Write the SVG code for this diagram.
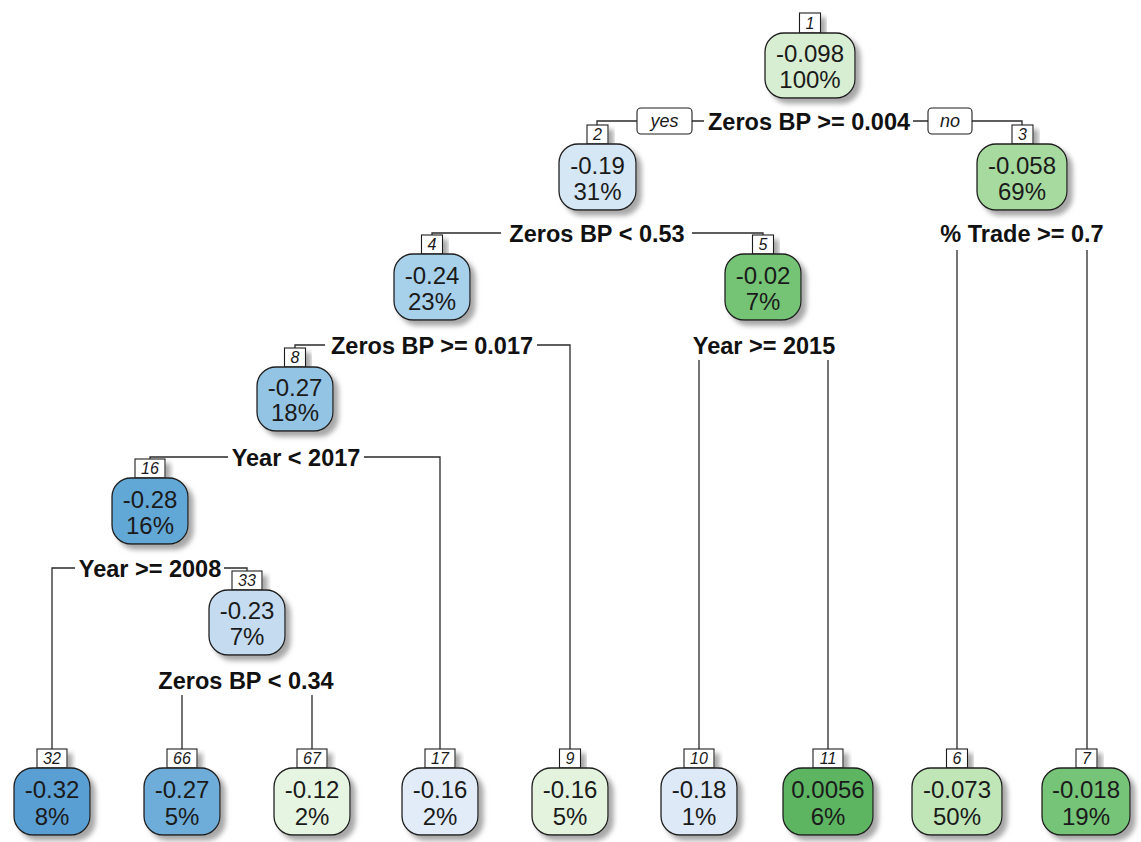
<svg xmlns="http://www.w3.org/2000/svg" width="1141" height="842" viewBox="0 0 1141 842">
<defs>
<filter id="sh" x="-20%" y="-20%" width="150%" height="150%">
<feDropShadow dx="5" dy="5" stdDeviation="2.5" flood-color="#8a8a8a" flood-opacity="0.75"/>
</filter>
<style>
.nb{stroke:#1f1f1f;stroke-width:1.3;filter:url(#sh)}
.lb{fill:#ffffff;stroke:#1f1f1f;stroke-width:1.1;filter:url(#sh)}
.yn{fill:#ffffff;stroke:#1f1f1f;stroke-width:1.1}
.nt{font-family:"Liberation Sans",Arial,sans-serif;font-size:24px;fill:#1a1a1a;text-anchor:middle}
.lt{font-family:"Liberation Sans",Arial,sans-serif;font-size:16px;font-style:italic;fill:#1a1a1a;text-anchor:middle}
.st{font-family:"Liberation Sans",Arial,sans-serif;font-size:23.5px;font-weight:bold;fill:#111;text-anchor:middle}
.yt{font-family:"Liberation Sans",Arial,sans-serif;font-size:18px;font-style:italic;fill:#1a1a1a;text-anchor:middle}
.cn{fill:none;stroke:#2a2a2a;stroke-width:1.3}
</style>
</defs>
<rect width="1141" height="842" fill="#ffffff"/>

<g id="connectors">
<path class="cn" d="M704 121H692M637 121H597V125"/>
<path class="cn" d="M913 121H928M972 121H1022V125"/>
<rect class="yn" x="637" y="108" width="55" height="26" rx="4"/>
<text class="yt" x="664.5" y="127">yes</text>
<rect class="yn" x="928" y="108" width="44" height="26" rx="4"/>
<text class="yt" x="950" y="127">no</text>
<path class="cn" d="M501 233H432V235M692 233H763V235"/>
<path class="cn" d="M957 250V749M1087 250V749"/>
<path class="cn" d="M325 345H295V348M537 345H570V749"/>
<path class="cn" d="M699 360V749M828 360V749"/>
<path class="cn" d="M228 457H150V459M364 457H440V749"/>
<path class="cn" d="M75 568H52V749M224 568H247V571"/>
<path class="cn" d="M182 695V749M312 695V749"/>
</g>

<g id="splits">
<text class="st" x="809" y="130">Zeros BP &gt;= 0.004</text>
<text class="st" x="597" y="242">Zeros BP &lt; 0.53</text>
<text class="st" x="1022" y="242">% Trade &gt;= 0.7</text>
<text class="st" x="432" y="354">Zeros BP &gt;= 0.017</text>
<text class="st" x="764" y="354">Year &gt;= 2015</text>
<text class="st" x="296" y="466">Year &lt; 2017</text>
<text class="st" x="150" y="577">Year &gt;= 2008</text>
<text class="st" x="246" y="689">Zeros BP &lt; 0.34</text>
</g>

<g id="node1">
<rect class="lb" x="799.5" y="13" width="21" height="20"/>
<text class="lt" x="810" y="29">1</text>
<rect class="nb" x="765" y="33" width="90" height="65" rx="19" fill="#d8eed2"/>
<text class="nt" x="810" y="62">-0.098</text>
<text class="nt" x="810" y="88">100%</text>
</g>
<g id="node2">
<rect class="lb" x="587" y="125" width="21" height="19"/>
<text class="lt" x="597.5" y="140">2</text>
<rect class="nb" x="559" y="144" width="77" height="66" rx="19" fill="#d5e6f5"/>
<text class="nt" x="597.5" y="174">-0.19</text>
<text class="nt" x="597.5" y="200">31%</text>
</g>
<g id="node3">
<rect class="lb" x="1012" y="125" width="21" height="19"/>
<text class="lt" x="1022.5" y="140">3</text>
<rect class="nb" x="977" y="144" width="90" height="66" rx="19" fill="#a7da9f"/>
<text class="nt" x="1022" y="174">-0.058</text>
<text class="nt" x="1022" y="200">69%</text>
</g>
<g id="node4">
<rect class="lb" x="421.5" y="235" width="21" height="19"/>
<text class="lt" x="432" y="250">4</text>
<rect class="nb" x="394" y="254" width="76" height="66" rx="19" fill="#a7d0ea"/>
<text class="nt" x="432" y="284">-0.24</text>
<text class="nt" x="432" y="310">23%</text>
</g>
<g id="node5">
<rect class="lb" x="752.5" y="235" width="21" height="19"/>
<text class="lt" x="763" y="250">5</text>
<rect class="nb" x="725" y="254" width="76" height="66" rx="19" fill="#74c476"/>
<text class="nt" x="763" y="284">-0.02</text>
<text class="nt" x="763" y="310">7%</text>
</g>
<g id="node8">
<rect class="lb" x="284.5" y="348" width="21" height="19"/>
<text class="lt" x="295" y="363">8</text>
<rect class="nb" x="257" y="367" width="76" height="64" rx="19" fill="#94c4e3"/>
<text class="nt" x="295" y="396">-0.27</text>
<text class="nt" x="295" y="421">18%</text>
</g>
<g id="node16">
<rect class="lb" x="135" y="459" width="30" height="19"/>
<text class="lt" x="150" y="474">16</text>
<rect class="nb" x="112" y="478" width="76" height="66" rx="19" fill="#62a8d7"/>
<text class="nt" x="150" y="508">-0.28</text>
<text class="nt" x="150" y="534">16%</text>
</g>
<g id="node33">
<rect class="lb" x="232" y="571" width="30" height="19"/>
<text class="lt" x="247" y="586">33</text>
<rect class="nb" x="209" y="590" width="76" height="65" rx="19" fill="#c4dbf0"/>
<text class="nt" x="247" y="619">-0.23</text>
<text class="nt" x="247" y="645">7%</text>
</g>
<g id="node32">
<rect class="lb" x="37" y="749" width="30" height="19"/>
<text class="lt" x="52" y="764">32</text>
<rect class="nb" x="14" y="768" width="76" height="67" rx="19" fill="#5a9fd3"/>
<text class="nt" x="52" y="798">-0.32</text>
<text class="nt" x="52" y="825">8%</text>
</g>
<g id="node66">
<rect class="lb" x="167" y="749" width="30" height="19"/>
<text class="lt" x="182" y="764">66</text>
<rect class="nb" x="144" y="768" width="76" height="67" rx="19" fill="#6eadd9"/>
<text class="nt" x="182" y="798">-0.27</text>
<text class="nt" x="182" y="825">5%</text>
</g>
<g id="node67">
<rect class="lb" x="297" y="749" width="30" height="19"/>
<text class="lt" x="312" y="764">67</text>
<rect class="nb" x="274" y="768" width="76" height="67" rx="19" fill="#e6f5e1"/>
<text class="nt" x="312" y="798">-0.12</text>
<text class="nt" x="312" y="825">2%</text>
</g>
<g id="node17">
<rect class="lb" x="425" y="749" width="30" height="19"/>
<text class="lt" x="440" y="764">17</text>
<rect class="nb" x="402" y="768" width="76" height="67" rx="19" fill="#e1ecf8"/>
<text class="nt" x="440" y="798">-0.16</text>
<text class="nt" x="440" y="825">2%</text>
</g>
<g id="node9">
<rect class="lb" x="559.5" y="749" width="21" height="19"/>
<text class="lt" x="570" y="764">9</text>
<rect class="nb" x="532" y="768" width="76" height="67" rx="19" fill="#e3f3dd"/>
<text class="nt" x="570" y="798">-0.16</text>
<text class="nt" x="570" y="825">5%</text>
</g>
<g id="node10">
<rect class="lb" x="684" y="749" width="30" height="19"/>
<text class="lt" x="699" y="764">10</text>
<rect class="nb" x="661" y="768" width="76" height="67" rx="19" fill="#dde9f6"/>
<text class="nt" x="699" y="798">-0.18</text>
<text class="nt" x="699" y="825">1%</text>
</g>
<g id="node11">
<rect class="lb" x="813" y="749" width="30" height="19"/>
<text class="lt" x="828" y="764">11</text>
<rect class="nb" x="783" y="768" width="90" height="67" rx="19" fill="#5db562"/>
<text class="nt" x="828" y="798">0.0056</text>
<text class="nt" x="828" y="825">6%</text>
</g>
<g id="node6">
<rect class="lb" x="946.5" y="749" width="21" height="19"/>
<text class="lt" x="957" y="764">6</text>
<rect class="nb" x="912" y="768" width="90" height="67" rx="19" fill="#c0e6b8"/>
<text class="nt" x="957" y="798">-0.073</text>
<text class="nt" x="957" y="825">50%</text>
</g>
<g id="node7">
<rect class="lb" x="1076" y="749" width="21" height="19"/>
<text class="lt" x="1086.5" y="764">7</text>
<rect class="nb" x="1042" y="768" width="88" height="67" rx="19" fill="#76c478"/>
<text class="nt" x="1086" y="798">-0.018</text>
<text class="nt" x="1086" y="825">19%</text>
</g>
</svg>
